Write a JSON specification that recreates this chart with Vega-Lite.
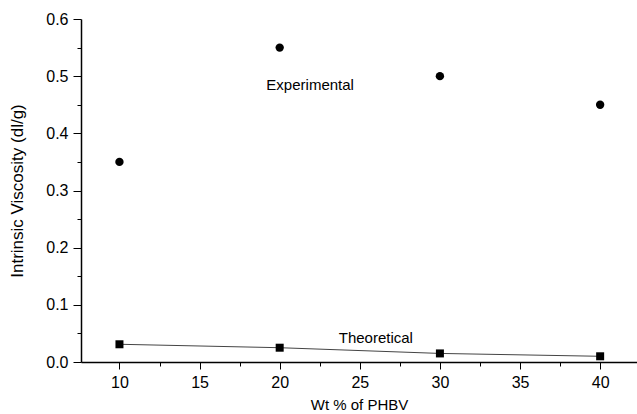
{
  "$schema": "https://vega.github.io/schema/vega-lite/v6.json",
  "width": 556,
  "height": 343,
  "autosize": {"type": "none"},
  "padding": {"left": 81, "top": 19, "right": 0, "bottom": 52},
  "background": "white",
  "config": {
    "view": {"stroke": null},
    "font": "Liberation Sans",
    "axis": {
      "grid": false,
      "domainColor": "black",
      "tickColor": "black",
      "labelColor": "black",
      "titleColor": "black",
      "labelFont": "Liberation Sans",
      "titleFont": "Liberation Sans",
      "titleFontWeight": "normal",
      "labelFontSize": 16,
      "titleFontSize": 15,
      "domainWidth": 1.5,
      "tickWidth": 1
    }
  },
  "datasets": {
    "exp": [
      {"wt": 10, "iv": 0.35},
      {"wt": 20, "iv": 0.55},
      {"wt": 30, "iv": 0.5},
      {"wt": 40, "iv": 0.45}
    ],
    "theo": [
      {"wt": 10, "iv": 0.031},
      {"wt": 20, "iv": 0.025},
      {"wt": 30, "iv": 0.015},
      {"wt": 40, "iv": 0.01}
    ],
    "notes": [
      {"wt": 21.9, "iv": 0.484, "label": "Experimental"},
      {"wt": 26, "iv": 0.042, "label": "Theoretical"}
    ]
  },
  "resolve": {"axis": {"x": "independent", "y": "independent"}},
  "layer": [
    {
      "data": {"name": "exp"},
      "mark": {"type": "point", "shape": "circle", "filled": true, "color": "black", "size": 70, "opacity": 1},
      "encoding": {
        "x": {
          "field": "wt", "type": "quantitative",
          "scale": {"domain": [7.6, 42.3], "nice": false, "zero": false},
          "axis": {
            "orient": "bottom",
            "values": [10, 15, 20, 25, 30, 35, 40],
            "tickSize": 7,
            "labelPadding": 5,
            "labelFlush": false,
            "title": "Wt % of PHBV",
            "titlePadding": 7
          }
        },
        "y": {
          "field": "iv", "type": "quantitative",
          "scale": {"domain": [0, 0.6], "nice": false},
          "axis": {
            "orient": "left",
            "values": [0, 0.1, 0.2, 0.3, 0.4, 0.5, 0.6],
            "format": ".1f",
            "tickSize": 8,
            "labelPadding": 5,
            "labelFlush": false,
            "title": "Intrinsic Viscosity (dl/g)",
            "titleFontSize": 17,
            "titlePadding": 19
          }
        }
      }
    },
    {
      "data": {"name": "theo"},
      "mark": {"type": "line", "color": "#444444", "strokeWidth": 1},
      "encoding": {
        "x": {
          "field": "wt", "type": "quantitative",
          "axis": {
            "orient": "bottom",
            "values": [12.5, 17.5, 22.5, 27.5, 32.5, 37.5],
            "tickSize": 4,
            "labels": false,
            "domain": false,
            "title": null
          }
        },
        "y": {
          "field": "iv", "type": "quantitative",
          "axis": {
            "orient": "left",
            "values": [0.05, 0.15, 0.25, 0.35, 0.45, 0.55],
            "tickSize": 4,
            "labels": false,
            "domain": false,
            "title": null
          }
        }
      }
    },
    {
      "data": {"name": "theo"},
      "mark": {"type": "square", "filled": true, "color": "black", "size": 64, "opacity": 1},
      "encoding": {
        "x": {"field": "wt", "type": "quantitative", "axis": null},
        "y": {"field": "iv", "type": "quantitative", "axis": null}
      }
    },
    {
      "data": {"name": "notes"},
      "mark": {"type": "text", "fontSize": 15, "font": "Liberation Sans", "color": "black", "baseline": "middle", "align": "center"},
      "encoding": {
        "x": {"field": "wt", "type": "quantitative", "axis": null},
        "y": {"field": "iv", "type": "quantitative", "axis": null},
        "text": {"field": "label"}
      }
    }
  ]
}
